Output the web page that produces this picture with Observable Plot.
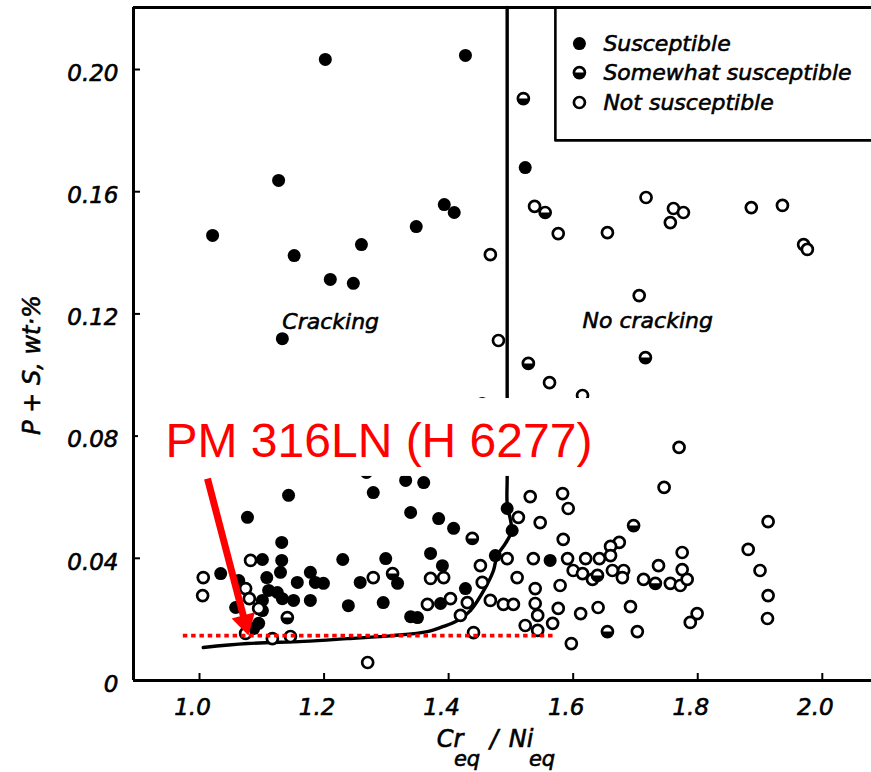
<!DOCTYPE html>
<html><head><meta charset="utf-8">
<script src="https://cdn.jsdelivr.net/npm/d3@7"></script>
<script src="https://cdn.jsdelivr.net/npm/@observablehq/plot@0.6"></script>
<style>body{margin:0;background:#fff} svg{display:block}</style>
</head><body><div id="chart"></div>
<script>
// ---- data (Cr_eq/Ni_eq vs P+S wt%) ----
const susceptibleX = [1.021,1.127,1.202,1.427,1.152,1.393,1.409,1.348,1.260,1.210,1.247,1.133,1.523,1.454,1.143,1.077,1.279,1.331,1.360,1.268,1.339,1.384,1.408,1.371,1.299,1.318,1.295,1.339,1.350,1.390,1.427,1.387,1.494,1.502,1.475,1.563,1.258,1.239,1.230,1.132,1.101,1.132,1.034,1.063,1.108,1.130,1.111,1.125,1.157,1.178,1.186,1.199,1.133,1.151,1.178,1.058,1.101,1.101,1.095,1.087];
const susceptibleY = [0.1457,0.1637,0.2033,0.2046,0.1391,0.1558,0.1532,0.1486,0.1427,0.1313,0.1300,0.1119,0.1679,0.0907,0.0606,0.0534,0.0615,0.0655,0.0648,0.0681,0.0550,0.0530,0.0498,0.0416,0.0399,0.0318,0.0255,0.0209,0.0206,0.0376,0.0301,0.0252,0.0563,0.0491,0.0409,0.0393,0.0321,0.0245,0.0396,0.0452,0.0396,0.0393,0.0350,0.0327,0.0337,0.0354,0.0295,0.0288,0.0321,0.0354,0.0321,0.0318,0.0268,0.0262,0.0262,0.0239,0.0262,0.0229,0.0187,0.0170];

const somewhatX = [1.520,1.555,1.528,1.716,1.438,1.310,1.141,1.697,1.732,1.655,1.639];
const somewhatY = [0.1905,0.1532,0.1038,0.1057,0.0465,0.0350,0.0206,0.0507,0.0318,0.0160,0.0344];

const notX = [1.538,1.576,1.655,1.717,1.761,1.777,1.756,1.886,1.936,1.970,1.976,1.467,1.480,1.562,1.615,1.706,1.770,1.746,1.531,1.583,1.592,1.512,1.547,1.584,1.494,1.451,1.536,1.591,1.600,1.510,1.579,1.454,1.392,1.371,1.279,1.366,1.403,1.430,1.419,1.467,1.488,1.504,1.539,1.539,1.543,1.523,1.567,1.543,1.440,1.270,1.597,1.576,1.674,1.660,1.620,1.642,1.660,1.775,1.881,1.913,1.900,1.737,1.775,1.663,1.681,1.615,1.631,1.679,1.713,1.756,1.772,1.783,1.612,1.640,1.692,1.799,1.788,1.913,1.912,1.703,1.006,1.005,1.082,1.074,1.080,1.095,1.074,1.117,1.146];
const notY = [0.1552,0.1463,0.1466,0.1581,0.1545,0.1532,0.1499,0.1548,0.1555,0.1427,0.1411,0.1394,0.1113,0.0975,0.0933,0.1260,0.0763,0.0632,0.0602,0.0612,0.0563,0.0534,0.0517,0.0462,0.0399,0.0376,0.0399,0.0399,0.0360,0.0337,0.0311,0.0321,0.0337,0.0334,0.0337,0.0249,0.0268,0.0255,0.0213,0.0262,0.0249,0.0249,0.0301,0.0252,0.0213,0.0180,0.0187,0.0164,0.0157,0.0059,0.0121,0.0236,0.0452,0.0439,0.0399,0.0399,0.0409,0.0419,0.0429,0.0520,0.0360,0.0376,0.0363,0.0360,0.0360,0.0350,0.0331,0.0337,0.0331,0.0318,0.0311,0.0331,0.0219,0.0239,0.0242,0.0219,0.0190,0.0278,0.0203,0.0160,0.0337,0.0278,0.0393,0.0301,0.0268,0.0236,0.0154,0.0137,0.0144];

const boundaryX = [1.006,1.077,1.167,1.238,1.311,1.366,1.392,1.414,1.435,1.459,1.472,1.478,1.491,1.501,1.494,1.494,1.494];
const boundaryY = [0.0108,0.0121,0.0128,0.0137,0.0147,0.0160,0.0177,0.0196,0.0229,0.0304,0.0360,0.0409,0.0448,0.0491,0.0579,0.0664,0.2203];

const xTicks = [1.0,1.2,1.4,1.6,1.8,2.0];
const xTickLabels = ["1.0","1.2","1.4","1.6","1.8","2.0"];
const yTicks = [0,0.04,0.08,0.12,0.16,0.20];
const yTickLabels = ["0","0.04","0.08","0.12","0.16","0.20"];

const legendLabels = ["Susceptible","Somewhat susceptible","Not susceptible"];
const regionLabels = ["Cracking","No cracking"];
const annotationLabel = "PM 316LN (H 6277)";
const annotationLevel = 0.0147;   // P+S of heat H 6277
const annotationRatio = 1.0787;   // Cr_eq/Ni_eq of heat H 6277

// ---- layout ----
const W = 871, H = 772, mL = 133, mR = 0, mT = 7, mB = 92;
const xmin = 0.894, xmax = 2.079, ymax = 0.2203;
const pxX = (W - mL - mR) / (xmax - xmin);
const pxY = (H - mT - mB) / ymax;
const zip = (xs, ys) => xs.map((x, i) => ({x, y: ys[i]}));
const susceptible = zip(susceptibleX, susceptibleY);
const somewhat = zip(somewhatX, somewhatY);
const notSus = zip(notX, notY);
const boundary = zip(boundaryX, boundaryY);

const halfDisc = {draw(ctx, size) { const r = Math.sqrt(size / Math.PI); ctx.moveTo(r, 0); ctx.arc(0, 0, r, 0, Math.PI); ctx.closePath(); }};

// annotation geometry (data units)
const arrowStart = {x: 1.0128, y: 0.0661};
const arrowTip = {x: annotationRatio, y: annotationLevel};
const adx = (arrowTip.x - arrowStart.x) * pxX, ady = -(arrowTip.y - arrowStart.y) * pxY;
const alen = Math.hypot(adx, ady), ux = adx / alen, uy = ady / alen;
const headC = {x: arrowTip.x - 14 * ux / pxX, y: arrowTip.y + 14 * uy / pxY};
const headRot = Math.atan2(ux, -uy) * 180 / Math.PI;

const legendItems = legendLabels.map((t, i) => ({t, x: 1.610, tx: 1.6485, y: [0.2085, 0.1990, 0.1892][i]}));
const legendBox = [{x: 1.5714, y: ymax}, {x: 1.5714, y: 0.1768}, {x: xmax, y: 0.1768}];
const regionItems = [{t: regionLabels[0], x: 1.133, y: 0.1152}, {t: regionLabels[1], x: 1.615, y: 0.1155}];

const italic = {fontStyle: "italic", fontFamily: "DejaVu Sans", fill: "black", stroke: "black", strokeWidth: 0.6};
const dotStroke = {fill: "white", stroke: "black", strokeWidth: 2.7, r: 5.5};

const plot = Plot.plot({
  width: W, height: H, marginLeft: mL, marginRight: mR, marginTop: mT, marginBottom: mB,
  x: {domain: [xmin, xmax], axis: null},
  y: {domain: [0, ymax], axis: null},
  style: {background: "white", fontFamily: "DejaVu Sans"},
  marks: [
    Plot.line(boundary, {x: "x", y: "y", curve: "catmull-rom", stroke: "black", strokeWidth: 3.4}),
    Plot.dot(susceptible, {x: "x", y: "y", r: 6.5, fill: "black"}),
    Plot.dot(notSus, {x: "x", y: "y", ...dotStroke}),
    Plot.dot(somewhat, {x: "x", y: "y", ...dotStroke}),
    Plot.dot(somewhat, {x: "x", y: "y", r: 5.8, fill: "black", symbol: halfDisc}),
    // frame
    Plot.ruleX([xmin], {stroke: "black", strokeWidth: 3}),
    Plot.ruleY([0], {x1: xmin, x2: xmax, stroke: "black", strokeWidth: 3}),
    Plot.ruleY([ymax], {x1: xmin, x2: xmax, stroke: "black", strokeWidth: 3}),
    // ticks (inward)
    Plot.ruleX(xTicks, {x: d => d, y1: 0, y2: 7 / pxY, stroke: "black", strokeWidth: 2}),
    Plot.ruleY(yTicks, {y: d => d, x1: xmin, x2: xmin + 7 / pxX, stroke: "black", strokeWidth: 2}),
    Plot.text(xTicks, {x: d => d, y: 0, text: (d, i) => xTickLabels[i], dy: 27, dx: -7, fontSize: 23, ...italic}),
    Plot.text(yTicks, {x: xmin, y: d => d, text: (d, i) => yTickLabels[i], dx: -15, dy: 4, textAnchor: "end", fontSize: 23, ...italic}),
    // legend
    Plot.line(legendBox, {x: "x", y: "y", stroke: "black", strokeWidth: 2.6}),
    Plot.dot(legendItems.slice(0, 1), {x: "x", y: "y", r: 6.5, fill: "black"}),
    Plot.dot(legendItems.slice(1), {x: "x", y: "y", ...dotStroke}),
    Plot.dot(legendItems.slice(1, 2), {x: "x", y: "y", r: 5.8, fill: "black", symbol: halfDisc}),
    Plot.text(legendItems, {x: "tx", y: "y", text: "t", textAnchor: "start", fontSize: 22, ...italic}),
    // region labels
    Plot.text(regionItems, {x: "x", y: "y", text: "t", textAnchor: "start", lineAnchor: "bottom", fontSize: 22, ...italic}),
    // annotation
    Plot.rect([{x1: 0.902, x2: 1.6565, y1: 0.0668, y2: 0.0923}], {x1: "x1", x2: "x2", y1: "y1", y2: "y2", fill: "white"}),
    Plot.text([annotationLabel], {x: 0.9454, y: 0.0730, text: d => d, textAnchor: "start", lineAnchor: "bottom", fontSize: 48, fontFamily: "Liberation Sans", fill: "#ff0000"}),
    Plot.ruleY([annotationLevel], {x1: 0.974, x2: 1.568, stroke: "#ff0000", strokeWidth: 3.6, strokeDasharray: "4.5,3.8"}),
    Plot.link([0], {x1: arrowStart.x, y1: arrowStart.y, x2: headC.x, y2: headC.y, stroke: "#ff0000", strokeWidth: 7}),
    Plot.dot([0], {x: headC.x, y: headC.y, symbol: "triangle", r: 8.9, fill: "#ff0000", rotate: headRot})
  ]
});

const svg = d3.select(plot);
const g = svg.append("g").attr("font-family", "DejaVu Sans").attr("font-style", "italic").attr("fill", "black").attr("stroke", "black").attr("stroke-width", 0.6);
g.append("text").attr("transform", "translate(40,365) rotate(-90)").attr("text-anchor", "middle").attr("font-size", 24).text("P + S, wt·%");
g.append("text").attr("x", 450).attr("y", 747).attr("font-size", 24).text("Cr");
g.append("text").attr("x", 467).attr("y", 766).attr("font-size", 21).text("eq");
g.append("text").attr("x", 494).attr("y", 747).attr("font-size", 24).text("/");
g.append("text").attr("x", 521).attr("y", 747).attr("font-size", 24).text("Ni");
g.append("text").attr("x", 542).attr("y", 766).attr("font-size", 21).text("eq");

document.getElementById("chart").append(plot);
</script>
</body></html>
